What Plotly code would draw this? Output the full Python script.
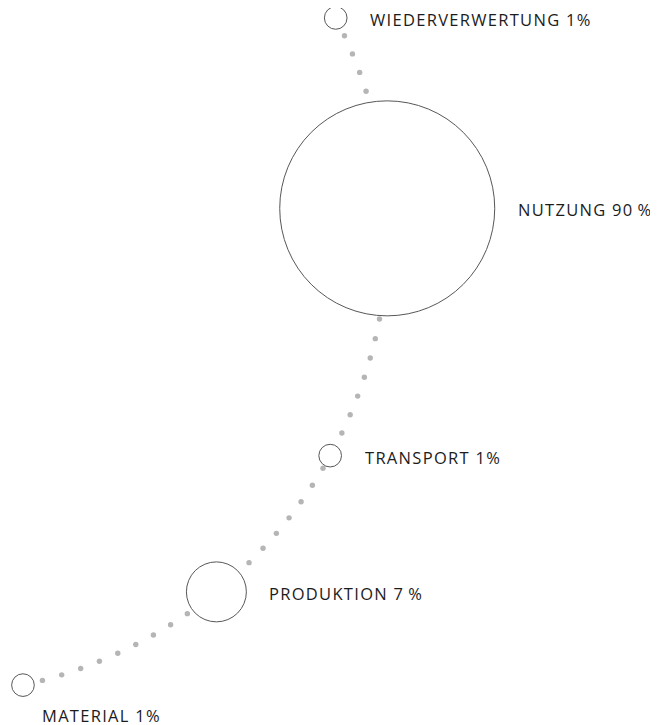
import numpy as np
import plotly.graph_objects as go

# ---- data ----
stages = ["MATERIAL", "PRODUKTION", "TRANSPORT", "NUTZUNG", "WIEDERVERWERTUNG"]
shares = [1, 7, 1, 90, 1]          # percent of life-cycle impact
share_fmt = ["1%", "7\u2009%", "1%", "90\u2009%", "1%"]

# ---- layout geometry (1 unit = 1 px, y up) ----
W, H = 658, 725
arc_cx, arc_cy, arc_r = -84.5, 501.4, 464.3        # connector arc
stage_angle = np.array([-77.63, -50.89, -28.85, 2.87, 27.4])   # deg along arc
label_side = ["below", "right", "right", "right", "right"]
max_radius_px = 107.5
sizeref = max(shares) / (2 * max_radius_px ** 2)


def radius_px(v):
    return np.sqrt(v / (2 * sizeref))


def on_arc(a):
    t = np.radians(a)
    return arc_cx + arc_r * np.cos(t), arc_cy + arc_r * np.sin(t)


sx, sy = on_arc(stage_angle)
rads = radius_px(np.array(shares, dtype=float))

# dotted connector along the arc (decoration)
lower = -77.63 + 2.473 * np.arange(-1, 29)
upper = 27.4 + 2.45 * np.arange(-5, 2)
dot_a = np.concatenate([lower, upper])
dx, dy = on_arc(dot_a)
keep = np.ones(len(dot_a), dtype=bool)
for cx, cy, r in zip(sx, sy, rads):
    keep &= np.hypot(dx - cx, dy - cy) > r + 1
dx, dy = dx[keep], dy[keep]

fig = go.Figure()
fig.add_trace(go.Scatter(
    x=dx, y=dy, mode="markers", hoverinfo="skip",
    marker=dict(size=5.4, color="#b5b5b5", line=dict(width=0)),
    cliponaxis=True, showlegend=False))
fig.add_trace(go.Scatter(
    x=sx, y=sy, mode="markers",
    text=[f"{s} {f}" for s, f in zip(stages, share_fmt)],
    hoverinfo="text",
    marker=dict(size=shares, sizemode="area", sizeref=sizeref,
                color="white", line=dict(color="#111111", width=1)),
    cliponaxis=False, showlegend=False))

FONT = dict(family="Open Sans", size=16.5, color="#1c1c1c")
for s, f, x, y, r, side in zip(stages, share_fmt, sx, sy, rads, label_side):
    if side == "right":
        xs, ys = r + 21, -1.5
    else:
        xs, ys = 17, -30
    fig.add_annotation(x=x, y=y, xref="x", yref="y", text=f"{s} {f}",
                       showarrow=False, xanchor="left", yanchor="middle",
                       align="left", xshift=xs, yshift=ys, font=FONT)

fig.update_layout(
    width=W, height=H, margin=dict(l=0, r=0, t=0, b=0),
    paper_bgcolor="white", plot_bgcolor="white",
    xaxis=dict(range=[0, W], visible=False, fixedrange=True),
    yaxis=dict(range=[0, H], visible=False, fixedrange=True),
)

letter_spacing = """
var gd = document.getElementById('{plot_id}');
function ls(){ gd.querySelectorAll('.annotation-text').forEach(function(t){ t.style.letterSpacing = '1.3px'; }); }
ls();
gd.on('plotly_afterplot', ls);
"""
fig.write_html("out.html", post_script=letter_spacing)
